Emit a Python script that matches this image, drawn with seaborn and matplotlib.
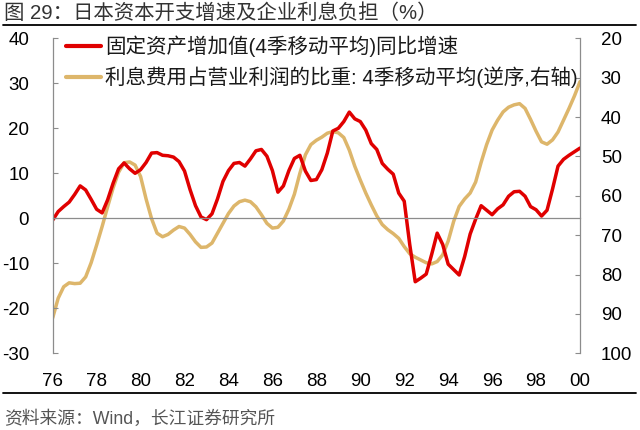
import matplotlib
matplotlib.use("Agg")
import matplotlib.pyplot as plt
import seaborn as sns
import numpy as np
import pandas as pd
from matplotlib.lines import Line2D

# ---------------- data (quarterly) ----------------
start_year = 1976
red_name = "固定资产增加值(4季移动平均)同比增速"
tan_name = "利息费用占营业利润的比重: 4季移动平均(逆序,右轴)"

red_vals = [
    -0.4, 1.5, 2.6, 3.6,      # 1976
    5.3, 7.2, 6.3, 4.2,       # 1977
    2.0, 1.2, 4.1, 7.8,       # 1978
    11.0, 12.3, 11.0, 10.0,   # 1979
    10.8, 12.4, 14.5, 14.6,   # 1980
    14.0, 13.9, 13.6, 12.6,   # 1981
    10.5, 6.4, 2.8, 0.3,      # 1982
    -0.3, 1.0, 4.3, 8.2,      # 1983
    10.6, 12.2, 12.4, 11.6,   # 1984
    13.2, 15.0, 15.3, 13.8,   # 1985
    10.6, 5.8, 7.2, 10.6,     # 1986
    13.3, 14.0, 10.5, 8.4,    # 1987
    8.6, 10.8, 14.5, 19.4,    # 1988
    20.0, 21.5, 23.6, 22.1,   # 1989
    21.5, 19.6, 16.6, 15.3,   # 1990
    12.2, 10.9, 9.8, 5.6,     # 1991
    3.8, -5.8, -14.1, -13.3,  # 1992
    -12.4, -8.0, -3.3, -5.8,  # 1993
    -10.2, -11.4, -12.6, -8.5,  # 1994
    -3.5, -0.2, 2.8, 1.8,     # 1995
    0.8, 2.1, 3.0, 4.9,       # 1996
    5.9, 6.0, 4.9, 2.6,       # 1997
    1.9, 0.5, 1.8, 6.5,       # 1998
    11.6, 13.1, 14.0, 14.8,   # 1999
    15.6,                     # 2000
]

tan_vals = [
    91.0, 86.0, 83.1, 82.1,   # 1976
    82.3, 82.2, 80.6, 77.0,   # 1977
    72.5, 67.8, 62.8, 58.0,   # 1978
    54.0, 51.6, 51.4, 52.2,   # 1979
    55.1, 60.8, 65.8, 69.5,   # 1980
    70.4, 69.8, 68.7, 67.8,   # 1981
    68.2, 69.8, 71.7, 73.1,   # 1982
    73.0, 72.0, 69.5, 67.0,   # 1983
    64.5, 62.6, 61.5, 61.1,   # 1984
    61.5, 62.8, 64.8, 67.0,   # 1985
    68.2, 68.0, 66.4, 63.4,   # 1986
    59.6, 54.3, 49.6, 47.0,   # 1987
    45.9, 45.1, 44.1, 43.7,   # 1988
    44.0, 45.2, 48.4, 52.5,   # 1989
    56.0, 59.3, 62.3, 65.1,   # 1990
    67.3, 68.6, 69.6, 70.8,   # 1991
    72.9, 74.7, 75.6, 76.3,   # 1992
    77.0, 77.3, 76.7, 75.0,   # 1993
    71.5, 66.5, 62.7, 60.8,   # 1994
    59.3, 56.5, 51.5, 47.0,   # 1995
    43.3, 40.8, 38.7, 37.5,   # 1996
    36.9, 36.6, 37.8, 40.6,   # 1997
    43.6, 46.3, 46.9, 45.8,   # 1998
    43.8, 40.8, 37.8, 34.6,   # 1999
    31.0,                     # 2000
]

x_tick_years = list(range(1976, 2001, 2))
x_tick_labels = ["76", "78", "80", "82", "84", "86", "88", "90", "92", "94", "96", "98", "00"]
left_ticks = [40, 30, 20, 10, 0, -10, -20, -30]
right_ticks = [20, 30, 40, 50, 60, 70, 80, 90, 100]

title_text = "图 29：日本资本开支增速及企业利息负担（%）"
source_text = "资料来源：Wind，长江证券研究所"

# ---------------- build table ----------------
t = start_year + np.arange(len(red_vals)) * 0.25
df = pd.DataFrame({"t": t, "red": red_vals, "tan": tan_vals})

sns.set_style("white")
plt.rcParams["font.family"] = ["Liberation Sans", "Noto Sans CJK SC", "DejaVu Sans"]
plt.rcParams["axes.unicode_minus"] = False

RED = "#E00000"
TAN = "#DDB66B"
GRAY = "#8C8C8C"

fig = plt.figure(figsize=(6.4, 4.3), dpi=100)
W, H = 640, 430
ax = fig.add_axes([52.7 / W, 1 - 353.3 / H, (580 - 52.7) / W, (353.3 - 38.3) / H])
ax.set_facecolor("none")
ax2 = ax.twinx()

sns.lineplot(data=df, x="t", y="red", ax=ax, color=RED, linewidth=2.5,
             label=red_name, legend=False)
sns.lineplot(data=df, x="t", y="tan", ax=ax2, color=TAN, linewidth=2.5,
             label=tan_name, legend=False)
ax.set_zorder(ax2.get_zorder() + 1)

ax.set_xlim(1976, 2000)
ax.set_ylim(-30, 40)
ax2.set_ylim(100, 20)
ax.set_yticks(left_ticks)
ax2.set_yticks(right_ticks)
ax.set_xlabel("")
ax.set_ylabel("")
ax2.set_ylabel("")

ax.spines["top"].set_visible(False)
ax2.spines["top"].set_visible(False)
ax2.spines["bottom"].set_visible(False)
ax2.spines["left"].set_visible(False)
ax.spines["right"].set_visible(False)
ax.spines["left"].set_color(GRAY)
ax2.spines["right"].set_color(GRAY)
ax.spines["left"].set_linewidth(0.9)
ax2.spines["right"].set_linewidth(0.9)

# zero axis line with upward ticks
ax.spines["bottom"].set_position(("data", 0))
ax.spines["bottom"].set_color(GRAY)
ax.spines["bottom"].set_linewidth(0.9)
ax.set_xticks(x_tick_years)
ax.tick_params(axis="x", direction="in", length=3.5, color=GRAY, labelbottom=False)

# labels along bottom
sec = ax.secondary_xaxis("bottom")
sec.spines["bottom"].set_visible(False)
sec.set_xticks(x_tick_years)
sec.set_xticklabels(x_tick_labels)
sec.tick_params(axis="x", length=0, pad=14, labelsize=13.5, labelcolor="black")

ax.tick_params(axis="y", direction="in", length=3.5, color=GRAY, pad=17,
               labelsize=13.5, labelcolor="black")
ax2.tick_params(axis="y", direction="in", length=3.5, color=GRAY, pad=15,
                labelsize=13.5, labelcolor="black")

# legend
h1, l1 = ax.get_legend_handles_labels()
h2, l2 = ax2.get_legend_handles_labels()
leg = ax.legend(h1 + h2, l1 + l2, loc="upper left",
                bbox_to_anchor=(66 / W, 1 - 36 / H), bbox_transform=fig.transFigure,
                frameon=False, fontsize=14.8, handlelength=1.7, handletextpad=0.22,
                labelspacing=0.42, borderaxespad=0, borderpad=0)
for line in leg.get_lines():
    line.set_linewidth(3)
for txt in leg.get_texts():
    txt.set_color("#1a1a1a")

# title, rules, source
fig.text(4 / W, 1 - 13 / H, title_text, fontsize=14.7, color="#333333",
         ha="left", va="center")
fig.add_artist(Line2D([3 / W, 636 / W], [1 - 24.5 / H, 1 - 24.5 / H],
                      transform=fig.transFigure, color="black", linewidth=1.3))
fig.add_artist(Line2D([3 / W, 636 / W], [1 - 392.7 / H, 1 - 392.7 / H],
                      transform=fig.transFigure, color="black", linewidth=1.3))
fig.text(4 / W, 1 - 419 / H, source_text, fontsize=12.8, color="#555555",
         ha="left", va="center")

fig.savefig("out.png", dpi=100)
